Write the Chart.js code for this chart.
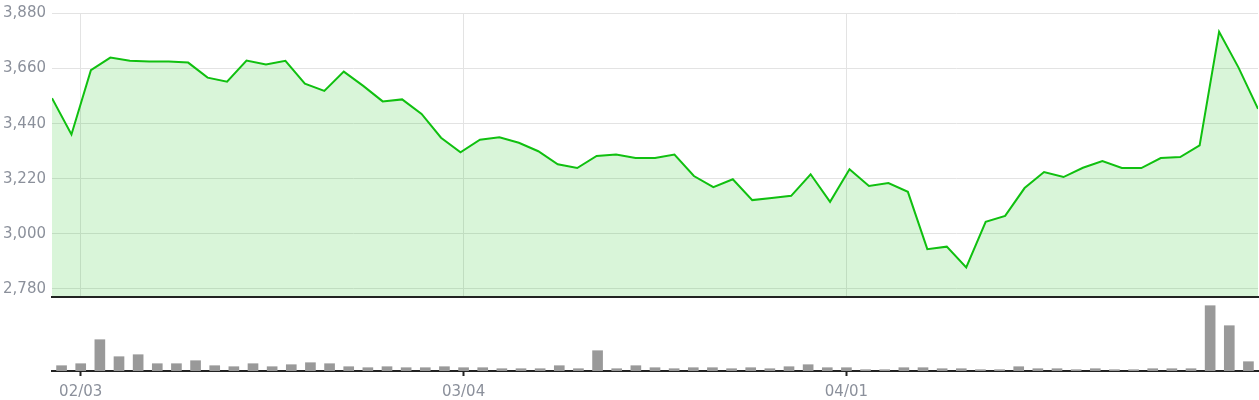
<!DOCTYPE html>
<html>
<head>
<meta charset="utf-8">
<script src="https://cdn.jsdelivr.net/npm/chart.js@4.4.1/dist/chart.umd.min.js"></script>
<style>
  body { margin: 0; background: #fff; overflow: hidden; }
  #wrap { position: relative; width: 1259px; height: 400px; overflow: hidden; }
  #priceChart { position: absolute; left: 0; top: 0; }
  #volChart { position: absolute; left: 0; top: 303px; }
</style>
</head>
<body>
<div id="wrap">
  <canvas id="priceChart" width="1259" height="310"></canvas>
  <canvas id="volChart" width="1259" height="105"></canvas>
</div>
<script>
const labels = [
  '01/31',
  '02/03','02/04','02/05','02/06','02/07','02/10','02/11','02/12','02/13','02/14',
  '02/18','02/19','02/20','02/21','02/24','02/25','02/26','02/27','02/28',
  '03/03','03/04','03/05','03/06','03/07','03/10','03/11','03/12','03/13','03/14',
  '03/17','03/18','03/19','03/20','03/21','03/24','03/25','03/26','03/27','03/28','03/31',
  '04/01','04/02','04/03','04/04','04/07','04/08','04/09','04/10','04/11','04/14',
  '04/15','04/16','04/17','04/21','04/22','04/23','04/24','04/25','04/28','04/29','04/30',
  '05/01'
];

const closes = [
  3542, 3397, 3654, 3704, 3691, 3688, 3688, 3684, 3624, 3608,
  3692, 3676, 3691, 3600, 3571, 3648, 3591, 3529, 3537, 3479,
  3384, 3326, 3376, 3386, 3364, 3330, 3278, 3263, 3311, 3317,
  3303, 3303, 3317, 3231, 3187, 3218, 3135, 3143, 3152, 3238,
  3128, 3258, 3191, 3203, 3168, 2939, 2949, 2866, 3048, 3072,
  3183, 3247, 3227, 3264, 3291, 3263, 3263, 3303, 3307, 3353,
  3807, 3664, 3499
];

const volumes = [
  5.3, 7.3, 31.3, 14.3, 16.3, 7.3, 7.3, 10.3, 5.3, 4.3,
  7.3, 4.3, 6.3, 8.3, 7.3, 4.3, 3.3, 4.3, 3.3, 3.3,
  4.3, 3.3, 3.3, 2.3, 2.3, 2.3, 5.3, 2.3, 20.3, 2.3,
  5.3, 3.3, 2.3, 3.3, 3.3, 2.3, 3.3, 2.3, 4.3, 6.3,
  3.3, 3.3, 1.3, 1.3, 3.3, 3.3, 2.3, 2.3, 1.3, 1.3,
  4.3, 2.3, 2.3, 1.3, 2.3, 1.3, 1.3, 2.3, 2.3, 2.3,
  65.3, 45.3, 9.3
];

const tickLabels = ['02/03', '03/04', '04/01'];
const priceTicks = [2780, 3000, 3220, 3440, 3660, 3880];

const lineColor = '#10c010';
const fillColor = 'rgba(16, 192, 16, 0.16)';
const gridColor = '#e3e3e3';
const axisColor = '#222222';
const textColor = '#8b909b';
const font = { family: 'DejaVu Sans', size: 15 };

// top chart: line spans edge to edge, grid lines follow the bar centres below
const n = closes.length;
const priceChart = new Chart('priceChart', {
  type: 'line',
  data: {
    datasets: [{
      data: closes.map((v, i) => ({ x: i, y: v })),
      borderColor: lineColor,
      backgroundColor: fillColor,
      borderWidth: 2,
      fill: 'start',
      pointRadius: 0,
      tension: 0
    }]
  },
  options: {
    responsive: false,
    animation: false,
    layout: { padding: { top: 12, right: 1, bottom: 0 } },
    plugins: { legend: { display: false }, tooltip: { enabled: false } },
    scales: {
      x: {
        type: 'linear',
        min: 0,
        max: n - 1,
        afterBuildTicks: (s) => {
          s.ticks = tickLabels.map(l => ({ value: (labels.indexOf(l) + 0.5) * (n - 1) / labels.length }));
        },
        ticks: { display: false },
        grid: { color: gridColor, drawTicks: false },
        border: { color: axisColor, width: 2 }
      },
      y: {
        min: 2750,
        max: 3880,
        afterBuildTicks: (s) => { s.ticks = priceTicks.map(v => ({ value: v })); },
        afterFit: (s) => { s.width = 52; },
        ticks: {
          color: textColor,
          font: { family: 'DejaVu Sans', size: 15, lineHeight: 1 },
          padding: 6,
          callback: (v) => v.toLocaleString('en-US')
        },
        grid: { color: gridColor, drawTicks: false },
        border: { display: false }
      }
    }
  }
});

const volChart = new Chart('volChart', {
  type: 'bar',
  data: {
    labels: labels,
    datasets: [{
      data: volumes,
      backgroundColor: '#999999',
      barThickness: 10
    }]
  },
  options: {
    responsive: false,
    animation: false,
    layout: { padding: { top: 0, left: 52, right: 1, bottom: 0 } },
    plugins: { legend: { display: false }, tooltip: { enabled: false } },
    scales: {
      x: {
        afterBuildTicks: (s) => {
          s.ticks = s.ticks.filter(t => tickLabels.includes(labels[t.value]));
        },
        ticks: { color: textColor, font: font, maxRotation: 0, autoSkip: false, padding: 7 },
        grid: { drawOnChartArea: false, offset: false, tickLength: 5, tickColor: axisColor, tickWidth: 2 },
        border: { color: axisColor, width: 2 }
      },
      y: { display: false, min: 0, max: 68 }
    }
  }
});
</script>
</body>
</html>
